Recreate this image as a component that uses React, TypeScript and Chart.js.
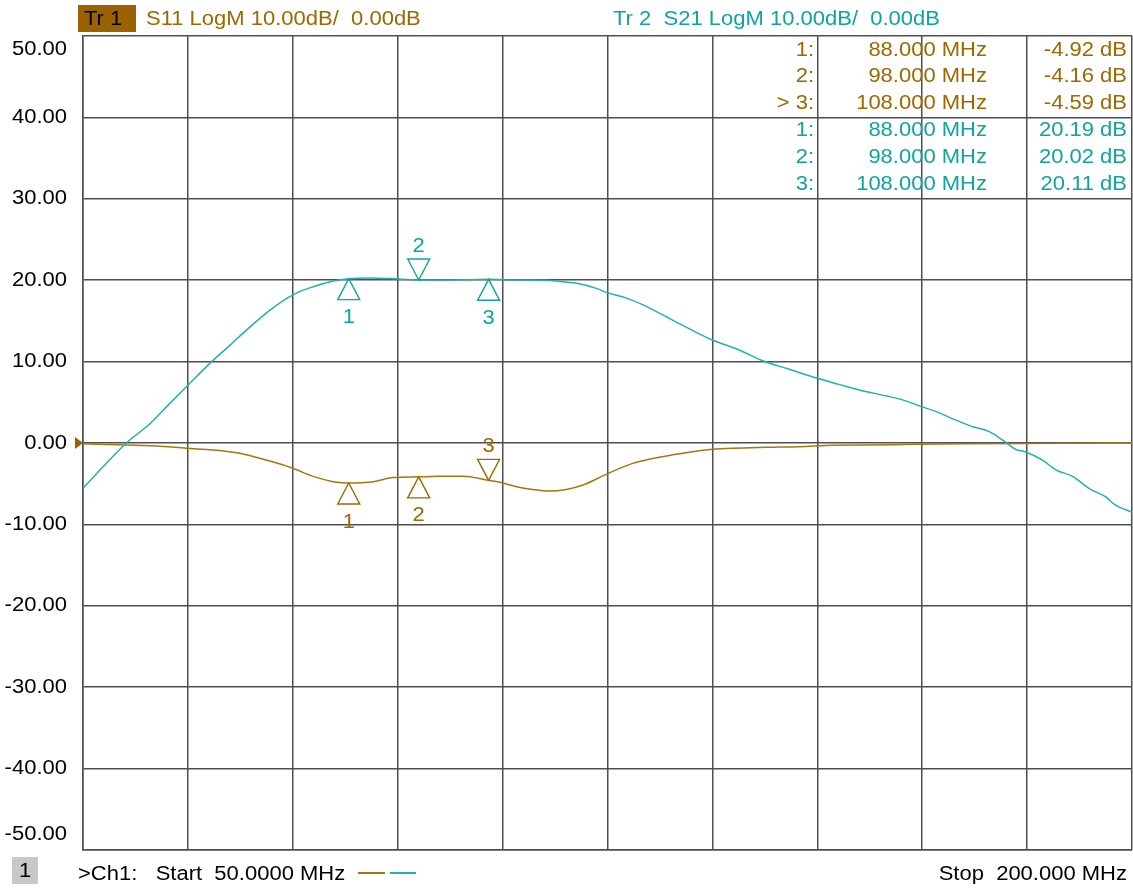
import React, { useEffect, useRef } from "react";
import { Chart, registerables } from "chart.js";

Chart.register(...registerables);

// ---- data ----
const s21Freq = [50, 53, 56.2, 59.6, 62, 65, 68.4, 71, 73.4, 76.7, 80, 82.9, 85.8, 88, 91, 94, 98, 102, 105, 108, 112, 116, 118.6, 120.8, 123.4, 124.8, 127.7, 130, 134.3, 137.2, 140, 143.9, 147.2, 151, 155, 158.1, 161, 164.8, 167.2, 169.8, 172, 174.3, 177.2, 179.6, 182, 183.4, 184.7, 187.2, 189.1, 191.5, 193.9, 196.2, 197.6, 200];
const s21Values = [-5.57, -2.8, 0, 2.4, 4.5, 7.1, 10, 12.0, 13.9, 16.3, 18.2, 19.2, 19.9, 20.19, 20.28, 20.2, 20.02, 20.02, 20.05, 20.11, 20.02, 20.0, 19.8, 19.6, 19.0, 18.5, 17.8, 17.0, 15.1, 13.8, 12.65, 11.4, 10.1, 9.05, 7.95, 7.2, 6.5, 5.8, 5.3, 4.5, 3.85, 3.0, 2.0, 1.4, 0.04, -0.8, -1.07, -2.1, -3.3, -4.1, -5.6, -6.6, -7.6, -8.5];

const s11Freq = [50, 56.2, 60.5, 64.8, 68.6, 72.4, 76.2, 80, 82.9, 85.8, 88, 91.5, 94.3, 98, 101, 104.3, 108, 109.6, 112, 114.3, 116.7, 119.1, 121.5, 124.8, 128.6, 132, 134.8, 138.1, 142.9, 147.7, 152.4, 157.2, 162, 169, 176, 184, 192, 200];
const s11Values = [-0.1, -0.25, -0.37, -0.65, -0.86, -1.27, -2.1, -3.1, -4.1, -4.75, -4.92, -4.75, -4.25, -4.16, -4.1, -4.1, -4.59, -4.83, -5.37, -5.7, -5.9, -5.7, -5.16, -3.85, -2.5, -1.8, -1.39, -0.94, -0.65, -0.53, -0.45, -0.28, -0.25, -0.16, -0.1, -0.05, -0.02, 0.0];

const markerFreqs = [88, 98, 108];
const s11Markers = [-4.92, -4.16, -4.59];
const s21Markers = [20.19, 20.02, 20.11];
const s11MarkerUp = [true, true, false];
const s21MarkerUp = [true, false, true];
const activeS11Marker = 2;

const startFreq = 50;
const stopFreq = 200;
const dbMin = -50;
const dbMax = 50;

const headerS11 = ["Tr 1", "S11 LogM 10.00dB/  0.00dB"];
const headerS21 = "Tr 2  S21 LogM 10.00dB/  0.00dB";
const footerStart = ">Ch1:   Start  50.0000 MHz";
const footerStop = "Stop  200.000 MHz";

// ---- style ----
const BROWN = "#a6760f";
const BROWN_TEXT = "#9c6800";
const BROWN_BOX = "#9a6200";
const TEAL = "#22b0b0";
const TEAL_TEXT = "#12a2a2";
const GRID = "#4f4f4f";
const FONT = '20px "Liberation Sans", Arial, sans-serif';
const STRETCH = 1.1;

function textAt(ctx: CanvasRenderingContext2D, s: string, x: number, y: number, color: string, align: CanvasTextAlign = "left") {
  ctx.save();
  ctx.font = FONT;
  ctx.fillStyle = color;
  ctx.textAlign = align;
  ctx.textBaseline = "middle";
  ctx.translate(x, y);
  ctx.scale(STRETCH, 1);
  ctx.fillText(s, 0, 0);
  ctx.restore();
}

function drawMarker(ctx: CanvasRenderingContext2D, x: number, y: number, up: boolean, label: string, color: string) {
  const h = 21, hw = 11;
  ctx.save();
  ctx.strokeStyle = color;
  ctx.lineWidth = 1.4;
  ctx.beginPath();
  if (up) {
    ctx.moveTo(x, y);
    ctx.lineTo(x - hw, y + h);
    ctx.lineTo(x + hw, y + h);
  } else {
    ctx.moveTo(x, y);
    ctx.lineTo(x - hw, y - h);
    ctx.lineTo(x + hw, y - h);
  }
  ctx.closePath();
  ctx.stroke();
  ctx.restore();
  textAt(ctx, label, x, up ? y + 39 : y - 34, color, "center");
}

const overlay = {
  id: "vnaOverlay",
  afterDraw(chart: any) {
    const ctx: CanvasRenderingContext2D = chart.ctx;
    const { left, right, top, bottom } = chart.chartArea;
    const xs = chart.scales.x;
    const ys = chart.scales.y;

    // y labels
    ys.ticks.forEach((t: any) => {
      let py = ys.getPixelForValue(t.value);
      py = Math.min(Math.max(py, top + 13), bottom - 16);
      textAt(ctx, t.value.toFixed(2), left - 16, py, "#000", "right");
    });

    // header
    ctx.fillStyle = BROWN_BOX;
    ctx.fillRect(78, 5, 58, 27);
    textAt(ctx, headerS11[0], 84, 19, "#000");
    textAt(ctx, headerS11[1], 146, 19, BROWN_TEXT);
    textAt(ctx, headerS21, 613, 19, TEAL_TEXT);

    // marker table
    const rowY0 = 50, rowH = 26.8;
    markerFreqs.forEach((f, i) => {
      const y1 = rowY0 + i * rowH;
      const y2 = rowY0 + (i + 3) * rowH;
      const pre = i === activeS11Marker ? "> " : "";
      textAt(ctx, `${pre}${i + 1}:`, 814, y1, BROWN_TEXT, "right");
      textAt(ctx, `${f.toFixed(3)} MHz`, 987, y1, BROWN_TEXT, "right");
      textAt(ctx, `${s11Markers[i].toFixed(2)} dB`, 1127, y1, BROWN_TEXT, "right");
      textAt(ctx, `${i + 1}:`, 814, y2, TEAL_TEXT, "right");
      textAt(ctx, `${f.toFixed(3)} MHz`, 987, y2, TEAL_TEXT, "right");
      textAt(ctx, `${s21Markers[i].toFixed(2)} dB`, 1127, y2, TEAL_TEXT, "right");
    });

    // markers
    markerFreqs.forEach((f, i) => {
      const px = xs.getPixelForValue(f);
      drawMarker(ctx, px, ys.getPixelForValue(s21Markers[i]), s21MarkerUp[i], String(i + 1), TEAL_TEXT);
      drawMarker(ctx, px, ys.getPixelForValue(s11Markers[i]), s11MarkerUp[i], String(i + 1), BROWN_TEXT);
    });

    // reference level triangle
    const ry = ys.getPixelForValue(0);
    ctx.fillStyle = BROWN_BOX;
    ctx.beginPath();
    ctx.moveTo(left, ry);
    ctx.lineTo(left - 8, ry - 6);
    ctx.lineTo(left - 8, ry + 6);
    ctx.closePath();
    ctx.fill();

    // footer
    ctx.fillStyle = "#c8c8c8";
    ctx.fillRect(12, 857, 26, 27);
    textAt(ctx, "1", 25, 871, "#000", "center");
    textAt(ctx, footerStart, 78, 874, "#000");
    ctx.lineWidth = 2;
    ctx.strokeStyle = BROWN;
    ctx.beginPath(); ctx.moveTo(358, 873); ctx.lineTo(385, 873); ctx.stroke();
    ctx.strokeStyle = TEAL;
    ctx.beginPath(); ctx.moveTo(390, 873); ctx.lineTo(416, 873); ctx.stroke();
    textAt(ctx, footerStop, right - 5, 874, "#000", "right");
  },
};

export default function App() {
  const ref = useRef<HTMLCanvasElement | null>(null);
  useEffect(() => {
    document.body.style.margin = "0";
    const canvas = ref.current;
    if (!canvas) return;
    const gridOpts = { color: GRID, lineWidth: 1.5, drawTicks: false };
    const chart = new Chart(canvas, {
      type: "line",
      data: {
        datasets: [
          {
            label: "S21",
            data: s21Freq.map((f, i) => ({ x: f, y: s21Values[i] })),
            borderColor: TEAL,
            borderWidth: 1.5,
            pointRadius: 0,
            cubicInterpolationMode: "monotone",
          },
          {
            label: "S11",
            data: s11Freq.map((f, i) => ({ x: f, y: s11Values[i] })),
            borderColor: BROWN,
            borderWidth: 1.5,
            pointRadius: 0,
            cubicInterpolationMode: "monotone",
          },
        ],
      },
      options: {
        animation: false,
        responsive: false,
        layout: { padding: { left: 83, top: 36, right: 1, bottom: 38 } },
        plugins: { legend: { display: false }, tooltip: { enabled: false } },
        scales: {
          x: {
            type: "linear",
            min: startFreq,
            max: stopFreq,
            ticks: { display: false, stepSize: 15 },
            grid: gridOpts,
            border: { display: true, color: GRID, width: 1.5 },
          },
          y: {
            type: "linear",
            min: dbMin,
            max: dbMax,
            ticks: { display: false, stepSize: 10 },
            grid: gridOpts,
            border: { display: true, color: GRID, width: 1.5 },
          },
        },
      },
      plugins: [overlay],
    } as any);
    return () => chart.destroy();
  }, []);
  return <canvas ref={ref} width={1133} height={888} style={{ display: "block" }} />;
}
